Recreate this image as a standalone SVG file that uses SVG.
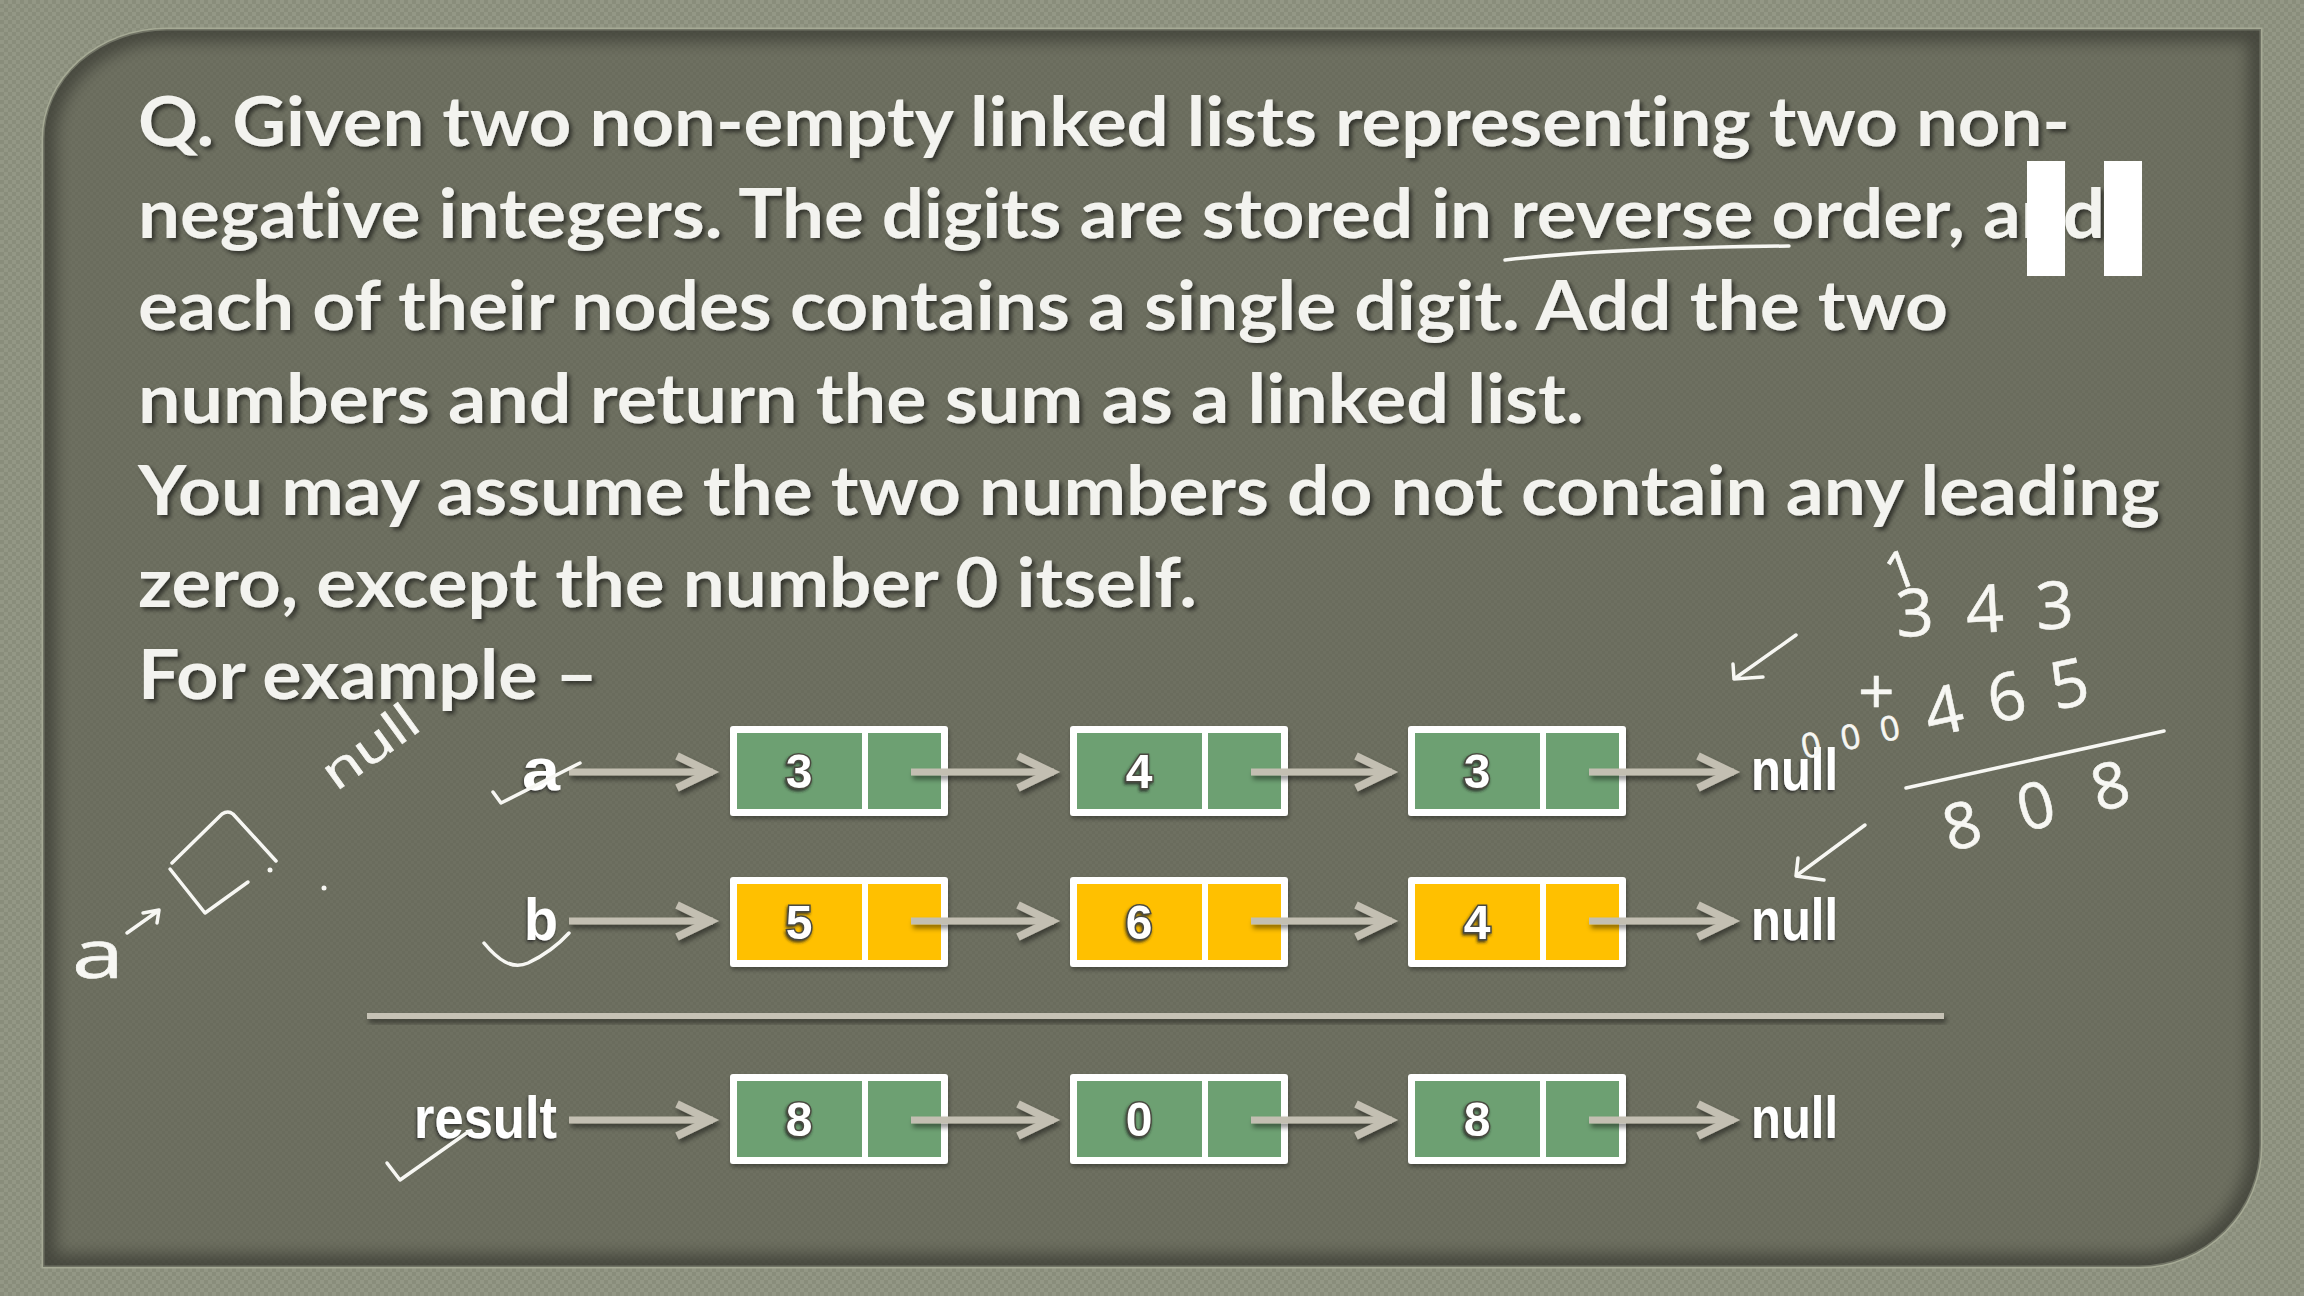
<svg xmlns="http://www.w3.org/2000/svg" width="2304" height="1296" viewBox="0 0 2304 1296">
  <defs>
    <pattern id="tex" width="8" height="8" patternUnits="userSpaceOnUse">
      <rect width="8" height="8" fill="#898d7b"/>
      <rect width="4" height="4" fill="#939785"/>
      <rect x="4" y="4" width="4" height="4" fill="#939785"/>
    </pattern>
    <pattern id="tex2" width="6" height="6" patternUnits="userSpaceOnUse">
      <rect width="6" height="6" fill="#6a6c5d"/>
      <rect width="3" height="3" fill="#6e7061"/>
      <rect x="3" y="3" width="3" height="3" fill="#6e7061"/>
    </pattern>
    <clipPath id="pc">
      <path d="M43,139 A124,110 0 0 1 167,29 L2261,29 L2261,1145 A122,122 0 0 1 2139,1267 L43,1267 Z"/>
    </clipPath>
    <filter id="blur8" x="-5%" y="-5%" width="110%" height="110%">
      <feGaussianBlur stdDeviation="8"/>
    </filter>
    <filter id="tsh" x="-5%" y="-20%" width="110%" height="150%">
      <feDropShadow dx="3" dy="3" stdDeviation="2" flood-color="#000" flood-opacity="0.55"/>
    </filter>
    <filter id="lsh" x="-20%" y="-20%" width="140%" height="150%">
      <feDropShadow dx="-1" dy="2" stdDeviation="1.5" flood-color="#222" flood-opacity="0.8"/>
    </filter>
    <filter id="csh" x="-5%" y="-50%" width="110%" height="250%">
      <feDropShadow dx="2" dy="4" stdDeviation="2.5" flood-color="#000" flood-opacity="0.45"/>
    </filter>
    <filter id="bsh" x="-5%" y="-10%" width="110%" height="130%">
      <feDropShadow dx="1" dy="3" stdDeviation="2" flood-color="#000" flood-opacity="0.35"/>
    </filter>
    <marker id="chev" markerUnits="userSpaceOnUse" markerWidth="60" markerHeight="50" viewBox="-45 -25 60 50" refX="0" refY="0" orient="auto" overflow="visible">
      <path d="M-36,-16 L-3,0 L-36,16" fill="none" stroke="#c3bfb2" stroke-width="8"/>
    </marker>
    <style>
      .frame { fill: #ffffff; }
      .g { fill: #6da072; }
      .y { fill: #ffc000; }
      .dig { font-family: "Liberation Sans", Arial, sans-serif; font-weight: bold; font-size: 48px; fill: #ffffff; stroke: #4a4a40; stroke-width: 3px; paint-order: stroke; text-anchor: middle; filter: url(#lsh); }
      .lbl { font-family: "Liberation Sans Narrow", "Liberation Sans", Arial, sans-serif; font-weight: bold; font-size: 60px; fill: #ffffff; filter: url(#lsh); }
      .q { font-family: Lato, "Open Sans", sans-serif; font-weight: 700; font-size: 68px; fill: #f3f3ef; font-variant-ligatures: none; }
      .conn line { stroke: #c3bfb2; stroke-width: 7; marker-end: url(#chev); }
      .hw { fill: none; stroke: #f7f7f3; stroke-width: 3.5; stroke-linecap: round; stroke-linejoin: round; }
      .hwt { font-family: "Open Sans", Lato, sans-serif; font-weight: 400; fill: #f7f7f3; stroke: #f7f7f3; stroke-width: 0.6px; }
    </style>
  </defs>

  <!-- background -->
  <rect width="2304" height="1296" fill="url(#tex)"/>
  <path d="M43,139 A124,110 0 0 1 167,29 L2261,29 L2261,1145 A122,122 0 0 1 2139,1267 L43,1267 Z" fill="url(#tex2)" stroke="#a6aa95" stroke-width="3"/>
  <g clip-path="url(#pc)">
    <path d="M43,139 A124,110 0 0 1 167,29 L2261,29 L2261,1145 A122,122 0 0 1 2139,1267 L43,1267 Z" fill="none" stroke="#000" stroke-opacity="0.35" stroke-width="26" filter="url(#blur8)"/>
  </g>

  <!-- question text -->
  <g id="question" class="q" filter="url(#tsh)">
    <text x="138" y="146" textLength="1932" lengthAdjust="spacingAndGlyphs">Q. Given two non-empty linked lists representing two non-</text>
    <text x="138" y="238" textLength="1967" lengthAdjust="spacingAndGlyphs">negative integers. The digits are stored in reverse order, and</text>
    <text x="138" y="330" textLength="1810" lengthAdjust="spacingAndGlyphs">each of their nodes contains a single digit. Add the two</text>
    <text x="138" y="423" textLength="1446" lengthAdjust="spacingAndGlyphs">numbers and return the sum as a linked list.</text>
    <text x="138" y="515" textLength="2022" lengthAdjust="spacingAndGlyphs">You may assume the two numbers do not contain any leading</text>
    <text x="138" y="607" textLength="1059" lengthAdjust="spacingAndGlyphs">zero, except the number 0 itself.</text>
    <text x="138" y="699" textLength="460" lengthAdjust="spacingAndGlyphs">For example –</text>
  </g>

  <!-- white cursor blocks -->
  <rect x="2027" y="161" width="38" height="115" fill="#ffffff"/>
  <rect x="2104" y="161" width="38" height="115" fill="#ffffff"/>

  <!-- divider -->
  <rect x="367" y="1013" width="1577" height="6" fill="#c6c2b5" filter="url(#csh)"/>

  <!-- labels -->
  <g id="label-a"><text class="lbl" x="522" y="790" textLength="38" lengthAdjust="spacingAndGlyphs">a</text></g>
  <g id="label-b"><text class="lbl" x="524" y="940" textLength="34" lengthAdjust="spacingAndGlyphs">b</text></g>
  <g id="label-result"><text class="lbl" x="414" y="1138" textLength="143" lengthAdjust="spacingAndGlyphs">result</text></g>
  <g id="null-a"><text class="lbl" x="1751" y="790" textLength="87" lengthAdjust="spacingAndGlyphs">null</text></g>
  <g id="null-b"><text class="lbl" x="1751" y="940" textLength="87" lengthAdjust="spacingAndGlyphs">null</text></g>
  <g id="null-result"><text class="lbl" x="1751" y="1138" textLength="87" lengthAdjust="spacingAndGlyphs">null</text></g>

  <!-- list a -->
  <g id="a1">
    <g filter="url(#bsh)">
      <rect class="frame" x="730" y="726" width="218" height="90" rx="3"/>
      <rect class="g" x="737" y="733" width="125" height="76"/>
      <rect class="g" x="868" y="733" width="73" height="76"/>
    </g>
    <text class="dig" x="799" y="788">3</text>
  </g>
  <g id="a2">
    <g filter="url(#bsh)">
      <rect class="frame" x="1070" y="726" width="218" height="90" rx="3"/>
      <rect class="g" x="1077" y="733" width="125" height="76"/>
      <rect class="g" x="1208" y="733" width="73" height="76"/>
    </g>
    <text class="dig" x="1139" y="788">4</text>
  </g>
  <g id="a3">
    <g filter="url(#bsh)">
      <rect class="frame" x="1408" y="726" width="218" height="90" rx="3"/>
      <rect class="g" x="1415" y="733" width="125" height="76"/>
      <rect class="g" x="1546" y="733" width="73" height="76"/>
    </g>
    <text class="dig" x="1477" y="788">3</text>
  </g>

  <!-- list b -->
  <g id="b1">
    <g filter="url(#bsh)">
      <rect class="frame" x="730" y="877" width="218" height="90" rx="3"/>
      <rect class="y" x="737" y="884" width="125" height="76"/>
      <rect class="y" x="868" y="884" width="73" height="76"/>
    </g>
    <text class="dig" x="799" y="939">5</text>
  </g>
  <g id="b2">
    <g filter="url(#bsh)">
      <rect class="frame" x="1070" y="877" width="218" height="90" rx="3"/>
      <rect class="y" x="1077" y="884" width="125" height="76"/>
      <rect class="y" x="1208" y="884" width="73" height="76"/>
    </g>
    <text class="dig" x="1139" y="939">6</text>
  </g>
  <g id="b3">
    <g filter="url(#bsh)">
      <rect class="frame" x="1408" y="877" width="218" height="90" rx="3"/>
      <rect class="y" x="1415" y="884" width="125" height="76"/>
      <rect class="y" x="1546" y="884" width="73" height="76"/>
    </g>
    <text class="dig" x="1477" y="939">4</text>
  </g>

  <!-- result list -->
  <g id="r1">
    <g filter="url(#bsh)">
      <rect class="frame" x="730" y="1074" width="218" height="90" rx="3"/>
      <rect class="g" x="737" y="1081" width="125" height="76"/>
      <rect class="g" x="868" y="1081" width="73" height="76"/>
    </g>
    <text class="dig" x="799" y="1136">8</text>
  </g>
  <g id="r2">
    <g filter="url(#bsh)">
      <rect class="frame" x="1070" y="1074" width="218" height="90" rx="3"/>
      <rect class="g" x="1077" y="1081" width="125" height="76"/>
      <rect class="g" x="1208" y="1081" width="73" height="76"/>
    </g>
    <text class="dig" x="1139" y="1136">0</text>
  </g>
  <g id="r3">
    <g filter="url(#bsh)">
      <rect class="frame" x="1408" y="1074" width="218" height="90" rx="3"/>
      <rect class="g" x="1415" y="1081" width="125" height="76"/>
      <rect class="g" x="1546" y="1081" width="73" height="76"/>
    </g>
    <text class="dig" x="1477" y="1136">8</text>
  </g>

  <!-- connectors -->
  <g id="connectors" class="conn" filter="url(#csh)">
    <line x1="569" y1="772" x2="713" y2="772"/>
    <line x1="911" y1="772" x2="1054" y2="772"/>
    <line x1="1251" y1="772" x2="1392" y2="772"/>
    <line x1="1589" y1="772" x2="1734" y2="772"/>
    <line x1="569" y1="921" x2="713" y2="921"/>
    <line x1="911" y1="921" x2="1054" y2="921"/>
    <line x1="1251" y1="921" x2="1392" y2="921"/>
    <line x1="1589" y1="921" x2="1734" y2="921"/>
    <line x1="569" y1="1120" x2="713" y2="1120"/>
    <line x1="911" y1="1120" x2="1054" y2="1120"/>
    <line x1="1251" y1="1120" x2="1392" y2="1120"/>
    <line x1="1589" y1="1120" x2="1734" y2="1120"/>
  </g>

  <!-- handwritten annotations -->
  <g id="handwriting">
    <path class="hw" d="M1505,260 Q1610,248 1789,246"/>
    <path class="hw" d="M493,792 L501,803 L580,763"/>
    <path class="hw" d="M484,943 C498,960 512,970 528,963 C545,955 558,945 569,933"/>
    <path class="hw" d="M387,1163 L400,1180 L468,1132"/>
    <!-- left sketch -->
    <path class="hw" d="M127,933 L158,911 M143,913 L159,910 L157,923"/>
    <path class="hw" d="M172,863 L222,814 Q228,810 233,814 L276,861"/>
    <path class="hw" d="M170,869 L205,913 L248,882"/>
    <circle cx="270" cy="870" r="2.5" fill="#f7f7f3"/>
    <circle cx="324" cy="888" r="2.5" fill="#f7f7f3"/>
    <text class="hwt" x="72" y="978" font-size="68" textLength="52" lengthAdjust="spacingAndGlyphs">a</text>
    <text class="hwt" x="336" y="792" font-size="48" textLength="108" lengthAdjust="spacingAndGlyphs" transform="rotate(-36 336 792)">null</text>
    <!-- right sum -->
    <path class="hw" d="M1796,635 L1734,679 M1733,664 L1734,679 L1763,677"/>
    <path class="hw" d="M1865,825 L1796,876 M1798,858 L1796,876 L1824,880"/>
    <path class="hw" d="M1906,788 L2164,731"/>
    <text class="hwt" x="1893" y="592" font-size="52" transform="rotate(-20 1893 592)">1</text>
    <text class="hwt" x="1897" y="637" font-size="66" textLength="178" transform="rotate(-3 1897 637)">343</text>
    <text class="hwt" x="1858" y="714" font-size="64">+</text>
    <text class="hwt" x="1930" y="737" font-size="66" textLength="166" transform="rotate(-12 1930 737)">465</text>
    <text class="hwt" x="1804" y="759" font-size="34" textLength="100" transform="rotate(-12 1804 759)">000</text>
    <text class="hwt" x="1950" y="852" font-size="64" textLength="190" transform="rotate(-15 1950 852)">808</text>
  </g>
</svg>
